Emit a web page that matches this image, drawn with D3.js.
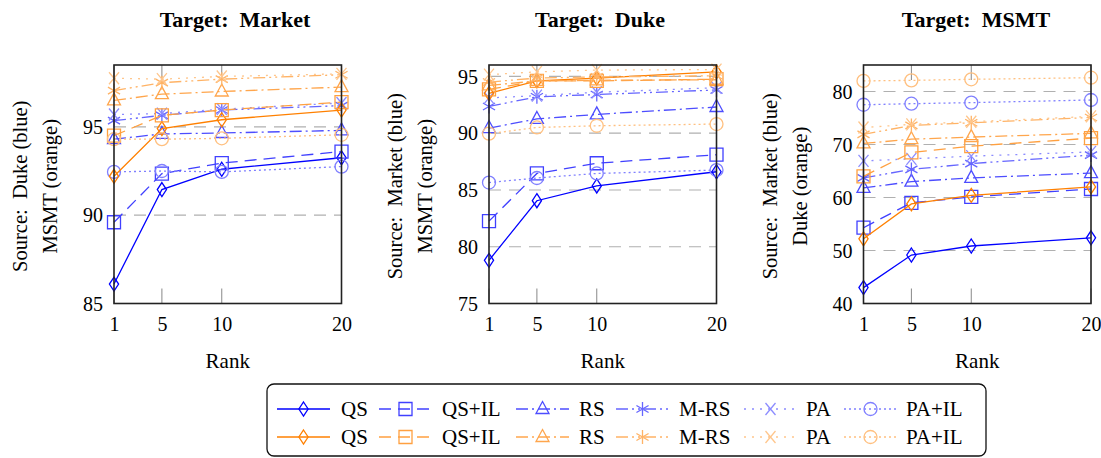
<!DOCTYPE html>
<html><head><meta charset="utf-8">
<script src="https://cdn.jsdelivr.net/npm/d3@7"></script>
<style>
body{margin:0;background:#fff}
text{font-family:"Liberation Serif","Times New Roman",serif;fill:#000;white-space:pre}
</style>
</head><body>
<svg id="c" width="1101" height="458" font-family="Liberation Serif, serif"></svg>
<script>
// ---------- data ----------
const ranks = [1, 5, 10, 20];
const methods = ["QS", "QS+IL", "RS", "M-RS", "PA", "PA+IL"];
const titles = ["Target:  Market", "Target:  Duke", "Target:  MSMT"];
const yLabelBlue = ["Source:  Duke (blue)", "Source:  Market (blue)", "Source:  Market (blue)"];
const yLabelOrange = ["MSMT (orange)", "MSMT (orange)", "Duke (orange)"];
const yDomains = [[85, 98.5], [75, 96], [40, 85]];
const yTicks = [[85, 90, 95], [75, 80, 85, 90, 95], [40, 50, 60, 70, 80]];

// Target Market: blue = source Duke, orange = source MSMT  (order: QS, QS+IL, RS, M-RS, PA, PA+IL)
const marketBlue = [
  [86.1, 91.45, 92.6, 93.25],
  [89.6, 92.35, 92.95, 93.6],
  [94.3, 94.6, 94.65, 94.8],
  [95.35, 95.65, 95.95, 96.2],
  [95.7, 95.75, 96.0, 96.35],
  [92.45, 92.5, 92.45, 92.75]
];
const marketOrange = [
  [92.2, 94.9, 95.4, 95.95],
  [94.5, 95.65, 95.95, 96.4],
  [96.5, 96.85, 97.0, 97.25],
  [97.05, 97.5, 97.7, 97.95],
  [97.75, 97.7, 97.85, 98.0],
  [94.3, 94.3, 94.35, 94.55]
];
// Target Duke: blue = source Market, orange = source MSMT
const dukeBlue = [
  [78.8, 84.05, 85.35, 86.6],
  [82.25, 86.45, 87.35, 88.1],
  [90.45, 91.25, 91.65, 92.3],
  [92.35, 93.2, 93.4, 93.8],
  [93.1, 93.3, 93.6, 94.0],
  [85.65, 86.05, 86.45, 86.75]
];
const dukeOrange = [
  [93.5, 94.6, 94.85, 95.4],
  [93.85, 94.6, 94.6, 94.75],
  [94.2, 94.6, 94.65, 94.7],
  [94.5, 94.85, 94.95, 95.05],
  [95.15, 95.4, 95.55, 95.6],
  [89.95, 90.5, 90.65, 90.8]
];
// Target MSMT: blue = source Market, orange = source Duke
const msmtBlue = [
  [43.0, 49.15, 50.85, 52.4],
  [54.3, 59.0, 60.1, 61.6],
  [61.8, 63.0, 63.7, 64.6],
  [63.7, 65.3, 66.4, 68.0],
  [66.9, 67.3, 67.8, 68.6],
  [77.5, 77.7, 77.9, 78.4]
];
const msmtOrange = [
  [52.2, 58.8, 60.4, 62.0],
  [64.0, 68.5, 69.7, 71.2],
  [70.2, 71.0, 71.4, 72.1],
  [71.9, 73.6, 74.1, 75.1],
  [73.2, 73.8, 74.3, 75.3],
  [82.0, 82.1, 82.3, 82.6]
];
const panelBlue = [marketBlue, dukeBlue, msmtBlue];
const panelOrange = [marketOrange, dukeOrange, msmtOrange];

// ---------- style ----------
const BLUE = "#0000ff", ORANGE = "#ff8000";
const tints = [1, 0.75, 0.7, 0.6, 0.45, 0.5];
const dashes = [null, "12,7", "12,4,2,4", "12,4,2,4,2,4", "2,6", "2,3"];
const markers = ["diamond", "square", "triangle", "asterisk", "cross", "circle"];
const col = (base, i) => d3.interpolateRgb("#ffffff", base)(tints[i]);
const SERIF = '"Liberation Serif","Times New Roman",serif';

function markerPath(type) {
  const p = d3.path();
  switch (type) {
    case "diamond": p.moveTo(0, -7); p.lineTo(4.6, 0); p.lineTo(0, 7); p.lineTo(-4.6, 0); p.closePath(); break;
    case "square": p.rect(-6.5, -6.5, 13, 13); break;
    case "triangle": p.moveTo(0, -7.5); p.lineTo(6.5, 4.5); p.lineTo(-6.5, 4.5); p.closePath(); break;
    case "asterisk": for (let k = 0; k < 3; k++) { const a = Math.PI / 2 + k * Math.PI / 3, r = 7;
        p.moveTo(r * Math.cos(a), r * Math.sin(a)); p.lineTo(-r * Math.cos(a), -r * Math.sin(a)); } break;
    case "cross": p.moveTo(-5, -6); p.lineTo(5, 6); p.moveTo(5, -6); p.lineTo(-5, 6); break;
    case "circle": p.arc(0, 0, 6.5, 0, 2 * Math.PI); break;
  }
  return p.toString();
}

const svg = d3.select("#c");
const lefts = [114, 489, 863.5], W = 227.5, topY = 65, bottomY = 303.5;
const titleX = [235, 600, 976];

for (let pi = 0; pi < 3; pi++) {
  const L = lefts[pi];
  const x = d3.scaleLinear().domain([1, 20]).range([L, L + W]);
  const y = d3.scaleLinear().domain(yDomains[pi]).range([bottomY, topY]);
  const g = svg.append("g");

  // grid
  g.selectAll(".grid").data(yTicks[pi].filter(t => t > yDomains[pi][0])).join("line")
    .attr("x1", L).attr("x2", L + W).attr("y1", d => y(d)).attr("y2", d => y(d))
    .attr("stroke", "#b0b0b0").attr("stroke-width", 1.1).attr("stroke-dasharray", "12,8");
  // x ticks inward top & bottom
  ranks.forEach(r => {
    g.append("line").attr("x1", x(r)).attr("x2", x(r)).attr("y1", bottomY).attr("y2", bottomY - 15)
      .attr("stroke", "#888").attr("stroke-width", 1);
    g.append("line").attr("x1", x(r)).attr("x2", x(r)).attr("y1", topY).attr("y2", topY + 15)
      .attr("stroke", "#888").attr("stroke-width", 1);
  });

  // axes (labels only)
  const ax = g.append("g").attr("transform", `translate(0,${bottomY})`)
    .call(d3.axisBottom(x).tickValues(ranks).tickSize(0).tickPadding(0));
  ax.attr("font-family", null);
  ax.select(".domain").remove();
  ax.selectAll("text").attr("font-size", 20).attr("dy", null).attr("y", 27)
    .style("font-family", SERIF);
  const ay = g.append("g").attr("transform", `translate(${L},0)`)
    .call(d3.axisLeft(y).tickValues(yTicks[pi]).tickSize(0).tickPadding(0));
  ay.attr("font-family", null);
  ay.select(".domain").remove();
  ay.selectAll("text").attr("font-size", 20).attr("x", -11).attr("dy", "0.34em")
    .style("font-family", SERIF);

  // series
  const line = d3.line().x((d, i) => x(ranks[i])).y(d => y(d));
  [[panelBlue[pi], BLUE], [panelOrange[pi], ORANGE]].forEach(([set, base]) => {
    set.forEach((vals, mi) => {
      const c = col(base, mi);
      g.append("path").attr("d", line(vals)).attr("fill", "none").attr("stroke", c)
        .attr("stroke-width", 1.3).attr("stroke-dasharray", dashes[mi]).attr("stroke-linecap", "butt");
      g.selectAll(null).data(vals).join("path")
        .attr("transform", (d, i) => `translate(${x(ranks[i])},${y(d)})`)
        .attr("d", markerPath(markers[mi])).attr("fill", "none").attr("stroke", c).attr("stroke-width", 1.3);
    });
  });

  // frame
  g.append("rect").attr("x", L).attr("y", topY).attr("width", W).attr("height", bottomY - topY)
    .attr("fill", "none").attr("stroke", "#222").attr("stroke-width", 1.6);

  // titles & labels
  svg.append("text").attr("x", titleX[pi]).attr("y", 27).attr("text-anchor", "middle")
    .attr("font-size", 22).attr("font-weight", "bold").text(titles[pi]);
  svg.append("text").attr("x", L + W / 2).attr("y", 368).attr("text-anchor", "middle")
    .attr("font-size", 21).text("Rank");
  const cy = (topY + bottomY) / 2 + 2;
  svg.append("text").attr("transform", `translate(${L - 87},${cy}) rotate(-90)`)
    .attr("text-anchor", "middle").attr("font-size", 20.5).text(yLabelBlue[pi]);
  svg.append("text").attr("transform", `translate(${L - 57},${cy}) rotate(-90)`)
    .attr("text-anchor", "middle").attr("font-size", 20.5).text(yLabelOrange[pi]);
}

// ---------- legend ----------
const lg = svg.append("g");
lg.append("rect").attr("x", 267).attr("y", 384).attr("width", 719).attr("height", 72).attr("rx", 7)
  .attr("fill", "#fff").attr("stroke", "#111").attr("stroke-width", 1.3);
const sampleX = [277, 379, 516, 616, 744, 844];
const labelX = [341, 442, 579, 679, 806, 906];
const rowY = [409, 437];
[BLUE, ORANGE].forEach((base, ri) => {
  methods.forEach((m, mi) => {
    const c = col(base, mi), y0 = rowY[ri], x0 = sampleX[mi];
    lg.append("line").attr("x1", x0).attr("x2", x0 + 53).attr("y1", y0).attr("y2", y0)
      .attr("stroke", c).attr("stroke-width", 1.3).attr("stroke-dasharray", dashes[mi]);
    lg.append("path").attr("transform", `translate(${x0 + 26.5},${y0})`).attr("d", markerPath(markers[mi]))
      .attr("fill", "none").attr("stroke", c).attr("stroke-width", 1.3);
    lg.append("text").attr("x", labelX[mi]).attr("y", y0 + 7).attr("font-size", 21).text(m);
  });
});
</script>
</body></html>
